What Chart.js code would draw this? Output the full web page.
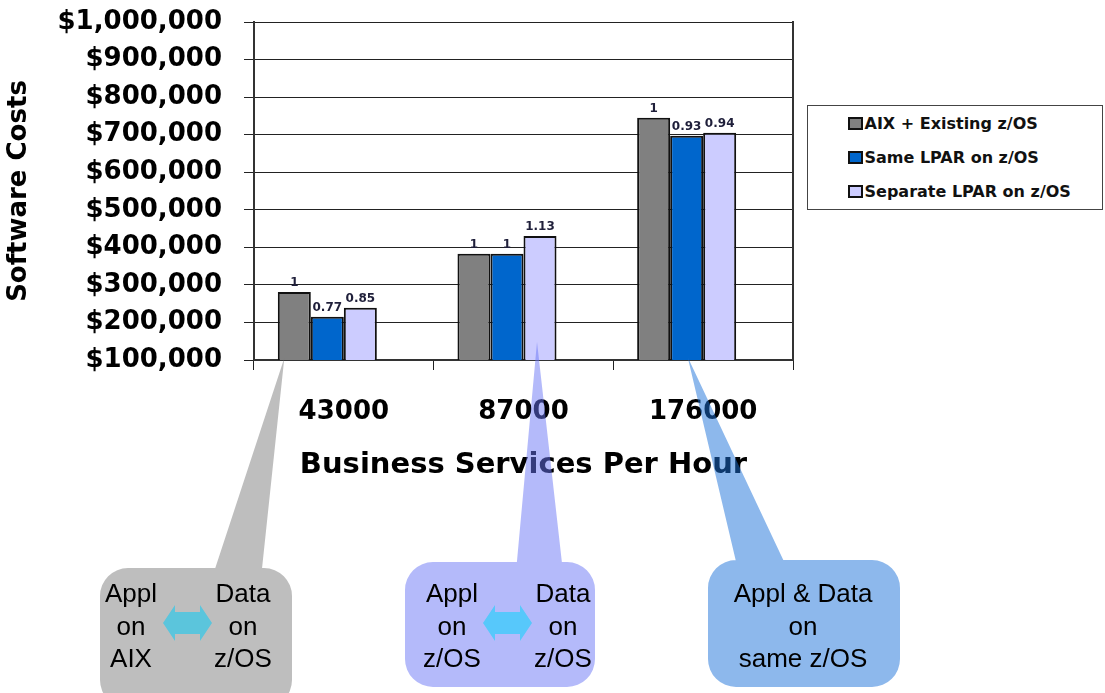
<!DOCTYPE html>
<html>
<head>
<meta charset="utf-8">
<title>Software Costs</title>
<script src="https://cdn.jsdelivr.net/npm/chart.js@4.4.1/dist/chart.umd.min.js"></script>
<style>
	body { margin: 0; background: #fff; overflow: hidden; }
	#wrap { position: relative; width: 1105px; height: 693px; }
	#legendBox {
		position: absolute; left: 807px; top: 105px; width: 296px; height: 105px;
		box-sizing: border-box; border: 1.5px solid #444; background: #fff; padding-top: 0.5px;
	}
	.legendRow {
		height: 34px; display: flex; align-items: center; padding-left: 39.5px;
		font: bold 16px "DejaVu Sans"; color: #111; white-space: nowrap;
	}
	.legendSwatch { width: 11px; height: 9px; border: 2px solid #111; margin-right: 2px; }
</style>
</head>
<body>
<div id="wrap">
	<canvas id="myChart"></canvas>
	<div id="legendBox"></div>
</div>
<script>
// values
var categories = ['43000', '87000', '176000'];
var seriesNames = ['AIX + Existing z/OS', 'Same LPAR on z/OS', 'Separate LPAR on z/OS'];
var aixExisting = [281000, 383000, 745000];
var sameLpar = [215000, 383000, 697000];
var separateLpar = [239000, 430000, 705000];

// relative cost printed above each bar
var aixRatio = ['1', '1', '1'];
var sameRatio = ['0.77', '1', '0.93'];
var separateRatio = ['0.85', '1.13', '0.94'];

var yMin = 100000;
var yMax = 1000000;
var yStep = 100000;

var seriesColors = ['#808080', '#0066cc', '#ccccff'];

// speech bubbles under the chart, pointing at a bar
var callouts = [
	{
		box: [100, 568, 192, 140], fill: 'rgba(125,125,125,0.5)',
		tip: { dataset: 0, index: 0, dx: -10, dy: -2 }, base: [212, 261],
		columns: [{ x: 131, lines: ['Appl', 'on', 'AIX'] }, { x: 243, lines: ['Data', 'on', 'z/OS'] }],
		arrow: { x1: 163, x2: 212, y: 623, color: '#5bc5dc' }
	},
	{
		box: [405, 562, 190, 125], fill: 'rgba(105,117,245,0.5)',
		tip: { dataset: 2, index: 1, dx: -3, dy: -18 }, base: [516, 563],
		columns: [{ x: 452, lines: ['Appl', 'on', 'z/OS'] }, { x: 563, lines: ['Data', 'on', 'z/OS'] }],
		arrow: { x1: 483, x2: 532, y: 623, color: '#57c8fb' }
	},
	{
		box: [708, 560, 192, 127], fill: 'rgba(27,113,217,0.5)',
		tip: { dataset: 1, index: 2, dx: 1, dy: -3 }, base: [738, 788],
		columns: [{ x: 803, lines: ['Appl & Data', 'on', 'same z/OS'] }],
		arrow: null
	}
];

function buildLegend() {
	var box = document.getElementById('legendBox');
	seriesNames.forEach(function(name, i) {
		var row = document.createElement('div');
		row.className = 'legendRow';
		var sw = document.createElement('span');
		sw.className = 'legendSwatch';
		sw.style.background = seriesColors[i];
		row.appendChild(sw);
		row.appendChild(document.createTextNode(name));
		box.appendChild(row);
	});
}

//the ratio numbers on top of the bars
var barLabelPlugin = {
	id: 'barLabels',
	afterDatasetsDraw: function(chart) {
		var ratios = [aixRatio, sameRatio, separateRatio];
		var ctx = chart.ctx;
		ctx.save();
		ctx.font = 'bold 12px "DejaVu Sans"';
		ctx.fillStyle = '#1f1f3a';
		ctx.textAlign = 'center';
		ctx.textBaseline = 'bottom';
		ratios.forEach(function(labels, d) {
			chart.getDatasetMeta(d).data.forEach(function(bar, i) {
				ctx.fillText(labels[i], bar.x, bar.y - 3);
			});
		});
		ctx.restore();
	}
};

function drawDoubleArrow(ctx, a) {
	var h = 12, hh = 18, sh = 11;
	ctx.fillStyle = a.color;
	ctx.beginPath();
	ctx.moveTo(a.x1, a.y);
	ctx.lineTo(a.x1 + h, a.y - hh);
	ctx.lineTo(a.x1 + h, a.y - sh);
	ctx.lineTo(a.x2 - h, a.y - sh);
	ctx.lineTo(a.x2 - h, a.y - hh);
	ctx.lineTo(a.x2, a.y);
	ctx.lineTo(a.x2 - h, a.y + hh);
	ctx.lineTo(a.x2 - h, a.y + sh);
	ctx.lineTo(a.x1 + h, a.y + sh);
	ctx.lineTo(a.x1 + h, a.y + hh);
	ctx.closePath();
	ctx.fill();
}

var calloutPlugin = {
	id: 'callouts',
	afterDraw: function(chart) {
		var ctx = chart.ctx;
		// bars start at the axis minimum, not at zero
		var axisBottom = chart.scales.y.getPixelForValue(yMin);
		callouts.forEach(function(c) {
			var bar = chart.getDatasetMeta(c.tip.dataset).data[c.tip.index];
			var tipX = bar.x + c.tip.dx;
			var tipY = axisBottom + c.tip.dy;
			ctx.save();
			// bubble and pointer in one path so the see-through fill does not double up
			ctx.beginPath();
			ctx.roundRect(c.box[0], c.box[1], c.box[2], c.box[3], 28);
			ctx.moveTo(tipX, tipY);
			ctx.lineTo(c.base[1], c.box[1] + 10);
			ctx.lineTo(c.base[0], c.box[1] + 10);
			ctx.closePath();
			ctx.fillStyle = c.fill;
			ctx.fill();

			if (c.arrow) {
				drawDoubleArrow(ctx, c.arrow);
			}

			ctx.fillStyle = '#000';
			ctx.font = '26px "Liberation Sans"';
			ctx.textAlign = 'center';
			ctx.textBaseline = 'middle';
			c.columns.forEach(function(col) {
				col.lines.forEach(function(line, k) {
					ctx.fillText(line, col.x, 595 + k * 32.5);
				});
			});
			ctx.restore();
		});
	}
};

function loadCostChart() {
	var ctx = document.getElementById('myChart');
	var boldFont = function(size) {
		return { family: 'DejaVu Sans', weight: 'bold', size: size };
	};
	var myChart = new Chart(ctx, {
		type: 'bar',
		data: {
			labels: categories,
			datasets: [
				{ label: seriesNames[0], data: aixExisting, backgroundColor: seriesColors[0], borderColor: '#111', borderWidth: 2 },
				{ label: seriesNames[1], data: sameLpar, backgroundColor: seriesColors[1], borderColor: '#111', borderWidth: 2 },
				{ label: seriesNames[2], data: separateLpar, backgroundColor: seriesColors[2], borderColor: '#111', borderWidth: 2 },
				// empty fourth slot, pushes every group a bit left of the tick centre like the original
				{ label: '', data: [null, null, null] }
			]
		},
		options: {
			responsive: true,
			maintainAspectRatio: false,
			animation: false,
			datasets: { bar: { categoryPercentage: 0.735, barPercentage: 1 } },
			layout: { padding: { top: 22, left: 0, right: 312, bottom: 206 } },
			plugins: { legend: { display: false }, tooltip: { enabled: false } },
			scales: {
				x: {
					grid: { drawOnChartArea: false, color: '#222', tickLength: 10 },
					border: { color: '#333', width: 2 },
					ticks: { font: boldFont(26), color: '#000', padding: 27 },
					title: {
						display: true, text: 'Business Services Per Hour', font: boldFont(29), color: '#000',
						padding: { top: 4, bottom: 4 }
					},
					afterFit: function(scale) { scale.height = 127; }
				},
				y: {
					min: yMin,
					max: yMax,
					ticks: {
						stepSize: yStep,
						font: boldFont(26),
						color: '#000',
						padding: 22,
						callback: function(v) { return '$' + v.toLocaleString('en-US'); }
					},
					grid: { color: '#222', tickLength: 10 },
					border: { color: '#333', width: 2 },
					title: { display: true, text: 'Software Costs', font: boldFont(26), color: '#000', padding: { top: 4, bottom: 4 } },
					afterFit: function(scale) {
						scale.width = 254;
						// the top label may stick out above the plot, as in the original
						scale.paddingTop = 0;
						scale.paddingBottom = 0;
					}
				},
				y2: {
					position: 'right',
					min: yMin,
					max: yMax,
					ticks: { display: false },
					grid: { display: false },
					border: { color: '#333', width: 2 },
					afterFit: function(scale) { scale.width = 0; }
				}
			}
		},
		plugins: [barLabelPlugin, calloutPlugin]
	});
	return myChart;
}

buildLegend();
loadCostChart();
</script>
</body>
</html>
